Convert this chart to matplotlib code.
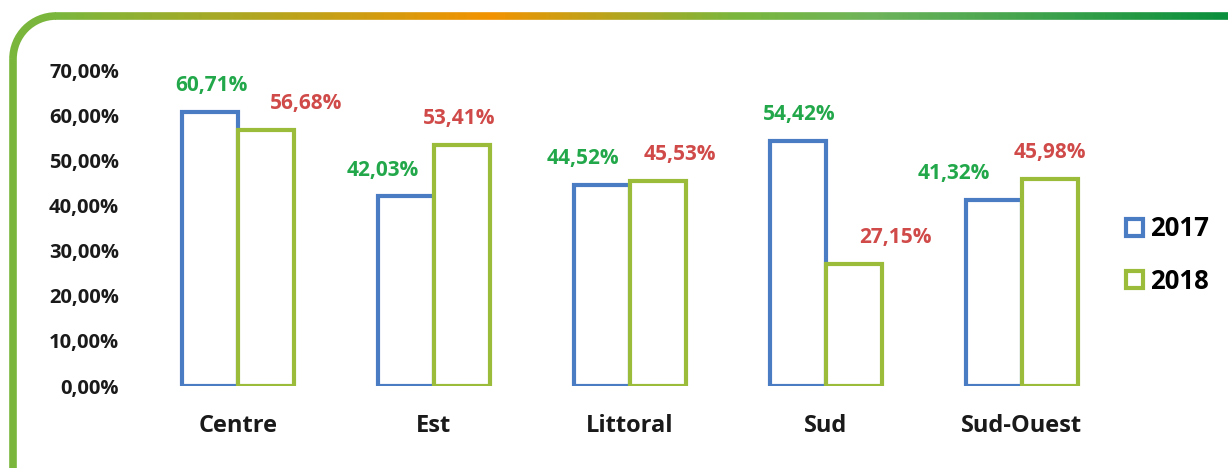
import matplotlib.pyplot as plt
import numpy as np
from matplotlib.collections import LineCollection
from matplotlib.colors import LinearSegmentedColormap
from matplotlib.patches import Patch, Arc

plt.rcParams['font.family'] = ['Open Sans', 'DejaVu Sans']

# Data
regions = ['Centre', 'Est', 'Littoral', 'Sud', 'Sud-Ouest']
values_2017 = [60.71, 42.03, 44.52, 54.42, 41.32]
values_2018 = [56.68, 53.41, 45.53, 27.15, 45.98]
label_2017 = ['60,71%', '42,03%', '44,52%', '54,42%', '41,32%']
label_2018 = ['56,68%', '53,41%', '45,53%', '27,15%', '45,98%']
yticks = [0, 10, 20, 30, 40, 50, 60, 70]

# manual label shifts (points), as placed in the original
shift_2017 = [1, -17, -14, 1, -29]
shift_2018 = [29, -2, 16, 30, 0]

blue = '#4a7cc4'
green = '#9bbb3b'
txt_green = '#22a84a'
txt_red = '#cf4a48'
frame_green = '#7ab63c'

fig = plt.figure(figsize=(12.28, 4.68), dpi=100)

# decorative frame
bg = fig.add_axes([0, 0, 1, 1])
bg.set_xlim(0, 1228)
bg.set_ylim(468, 0)
bg.axis('off')
frame_cmap = LinearSegmentedColormap.from_list(
    'frame', [(0, frame_green), (0.37, '#f29200'), (0.58, frame_green),
              (0.7, '#6db35a'), (1, '#0a8f3c')])
xs = np.linspace(55, 1228, 400)
segs = [[(xs[i], 16), (xs[i + 1], 16)] for i in range(len(xs) - 1)]
bg.add_collection(LineCollection(segs, colors=frame_cmap(np.linspace(0, 1, len(segs))),
                                 linewidths=5.5, capstyle='butt'))
bg.add_patch(Arc((56, 59), 86, 86, theta1=180, theta2=270, color=frame_green, lw=5.5))
bg.plot([13, 13], [59, 470], color=frame_green, lw=5.5, solid_capstyle='butt')

ax = fig.add_axes([0.114, 0.175, 0.798, 0.675])
x = np.arange(len(regions))
w = 0.285
ax.bar(x - w / 2, values_2017, w, facecolor='white', edgecolor=blue, linewidth=3, label='2017')
ax.bar(x + w / 2, values_2018, w, facecolor='white', edgecolor=green, linewidth=3, label='2018')

for i in range(len(regions)):
    ax.annotate(label_2017[i], (x[i] - w / 2, values_2017[i]), xytext=(shift_2017[i], 19),
                textcoords='offset points', ha='center', va='center',
                color=txt_green, fontsize=15, fontweight='bold')
    ax.annotate(label_2018[i], (x[i] + w / 2, values_2018[i]), xytext=(shift_2018[i], 19),
                textcoords='offset points', ha='center', va='center',
                color=txt_red, fontsize=15, fontweight='bold')

ax.set_xlim(-0.5, len(regions) - 0.5)
ax.set_ylim(0, 70)
ax.set_yticks(yticks)
ax.set_yticklabels([f'{v},00%' for v in yticks], fontsize=14.5, fontweight='bold', color='#1a1a1a')
ax.set_xticks(x)
ax.set_xticklabels(regions, fontsize=17, fontweight='bold', color='#1a1a1a')
ax.tick_params(length=0, axis='y', pad=15)
ax.tick_params(length=0, axis='x', pad=20)
for s in ax.spines.values():
    s.set_visible(False)

handles = [Patch(facecolor='white', edgecolor=blue, linewidth=3, label='2017'),
           Patch(facecolor='white', edgecolor=green, linewidth=3, label='2018')]
fig.legend(handles=handles, loc='center left', bbox_to_anchor=(0.917, 0.455),
           frameon=False, borderaxespad=0, borderpad=0,
           handlelength=0.65, handleheight=0.65, handletextpad=0.3,
           labelspacing=1.0, prop={'weight': 'bold', 'size': 18.5})

fig.savefig('out.png', dpi=100)
